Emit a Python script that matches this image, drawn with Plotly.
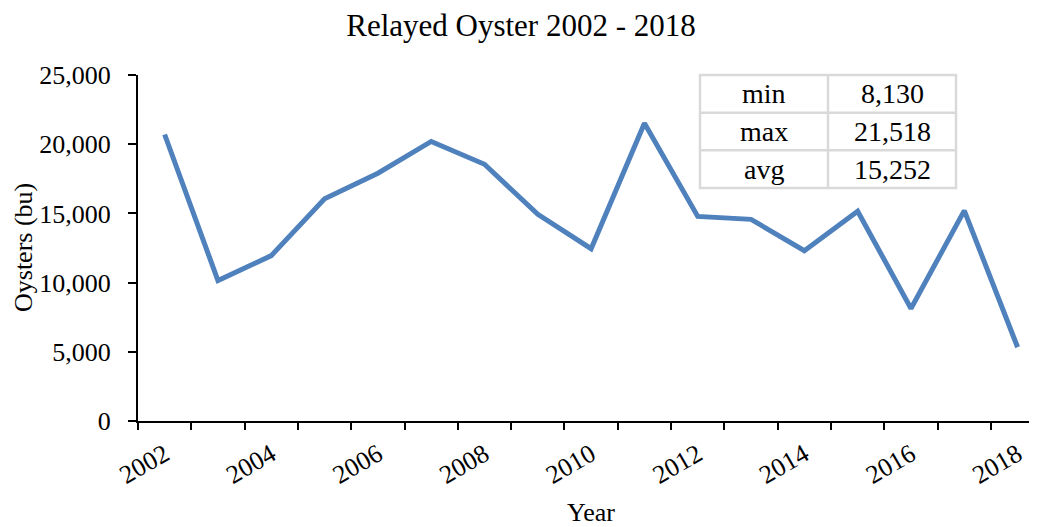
import plotly.graph_objects as go

years = list(range(2002, 2019))
oysters = [20700, 10150, 11950, 16050, 17900, 20200, 18550, 14930, 12450, 21518,
           14780, 14570, 12300, 15150, 8130, 15200, 5330]
tick_years = [2002, 2004, 2006, 2008, 2010, 2012, 2014, 2016, 2018]
y_ticks = [0, 5000, 10000, 15000, 20000, 25000]
stat_labels = ["min", "max", "avg"]
stat_values = ["8,130", "21,518", "15,252"]

OFF = 8  # default page body margin
PAGE_W, PAGE_H = 1037, 527
W, H = PAGE_W - OFF, PAGE_H - OFF
# plot area in page pixels
PX0, PX1, PY0, PY1 = 138, 1037, 75, 421
L, R = PX0 - OFF, PAGE_W - PX1
T, B = PY0 - OFF, PAGE_H - PY1
pw, ph = W - L - R, H - T - B

def px(x):
    return (x - PX0) / pw

def py(y):
    return (PY1 - y) / ph

FONT = "Liberation Serif, Times New Roman, serif"

fig = go.Figure()
fig.add_trace(go.Scatter(x=years, y=oysters, mode="lines",
                         line=dict(color="#4f81bd", width=5),
                         hoverinfo="x+y", showlegend=False))

x_lo = years[0] - 0.5
x_hi = x_lo + pw / 53.31

fig.update_layout(
    width=W, height=H,
    margin=dict(l=L, r=R, t=T, b=B),
    paper_bgcolor="white", plot_bgcolor="white",
    font=dict(family=FONT, size=26, color="black"),
    title=dict(text="Relayed Oyster 2002 - 2018", x=(521 - OFF) / W, xanchor="center",
               y=1 - (25 - OFF) / H, yanchor="middle", font=dict(size=31)),
    xaxis=dict(range=[x_lo, x_hi], tickmode="array", tickvals=tick_years,
               ticktext=[str(t) for t in tick_years], ticks="", tickangle=-30,
               ticklabelstandoff=6,
               showline=True, linecolor="black", linewidth=2, showgrid=False,
               zeroline=False,
               minor=dict(tickmode="array",
                          tickvals=[y - 0.5 for y in years] + [years[-1] + 0.5],
                          ticks="outside", ticklen=7, tickcolor="black", tickwidth=2,
                          showgrid=False),
               tickfont=dict(size=26)),
    yaxis=dict(range=[0, 25000], tickmode="array", tickvals=y_ticks,
               ticktext=[f"{v:,}" for v in y_ticks], ticks="outside", ticklen=8,
               tickwidth=2, tickcolor="black", ticklabelstandoff=12,
               showline=True, linecolor="black", linewidth=2, showgrid=False,
               zeroline=False, tickfont=dict(size=26)),
)

# axis titles
fig.add_annotation(text="Year", xref="paper", yref="paper", x=px(591), y=py(512),
                   xanchor="center", yanchor="middle", showarrow=False,
                   font=dict(size=26))
fig.add_annotation(text="Oysters (bu)", xref="paper", yref="paper", x=px(23), y=py(248),
                   xanchor="center", yanchor="middle", textangle=-90, showarrow=False,
                   font=dict(size=26))

# stats table
tx0, tx1, tcol = 700, 956, 828
ty0, ty1 = 75, 188
rh = (ty1 - ty0) / len(stat_labels)
gray = "#d9d9d9"
fig.add_shape(type="rect", xref="paper", yref="paper", x0=px(tx0), x1=px(tx1),
              y0=py(ty1), y1=py(ty0), line=dict(color=gray, width=2.5),
              fillcolor="white", layer="above")
fig.add_shape(type="line", xref="paper", yref="paper", x0=px(tcol), x1=px(tcol),
              y0=py(ty1), y1=py(ty0), line=dict(color=gray, width=2.5), layer="above")
for i in range(1, len(stat_labels)):
    yy = ty0 + i * rh
    fig.add_shape(type="line", xref="paper", yref="paper", x0=px(tx0), x1=px(tx1),
                  y0=py(yy), y1=py(yy), line=dict(color=gray, width=2.5), layer="above")
for i, (lab, val) in enumerate(zip(stat_labels, stat_values)):
    yc = ty0 + (i + 0.5) * rh
    fig.add_annotation(text=lab, xref="paper", yref="paper", x=px((tx0 + tcol) / 2),
                       y=py(yc), xanchor="center", yanchor="middle", showarrow=False,
                       font=dict(size=28))
    fig.add_annotation(text=val, xref="paper", yref="paper", x=px((tcol + tx1) / 2),
                       y=py(yc), xanchor="center", yanchor="middle", showarrow=False,
                       font=dict(size=28))

fig.write_html("out.html")
